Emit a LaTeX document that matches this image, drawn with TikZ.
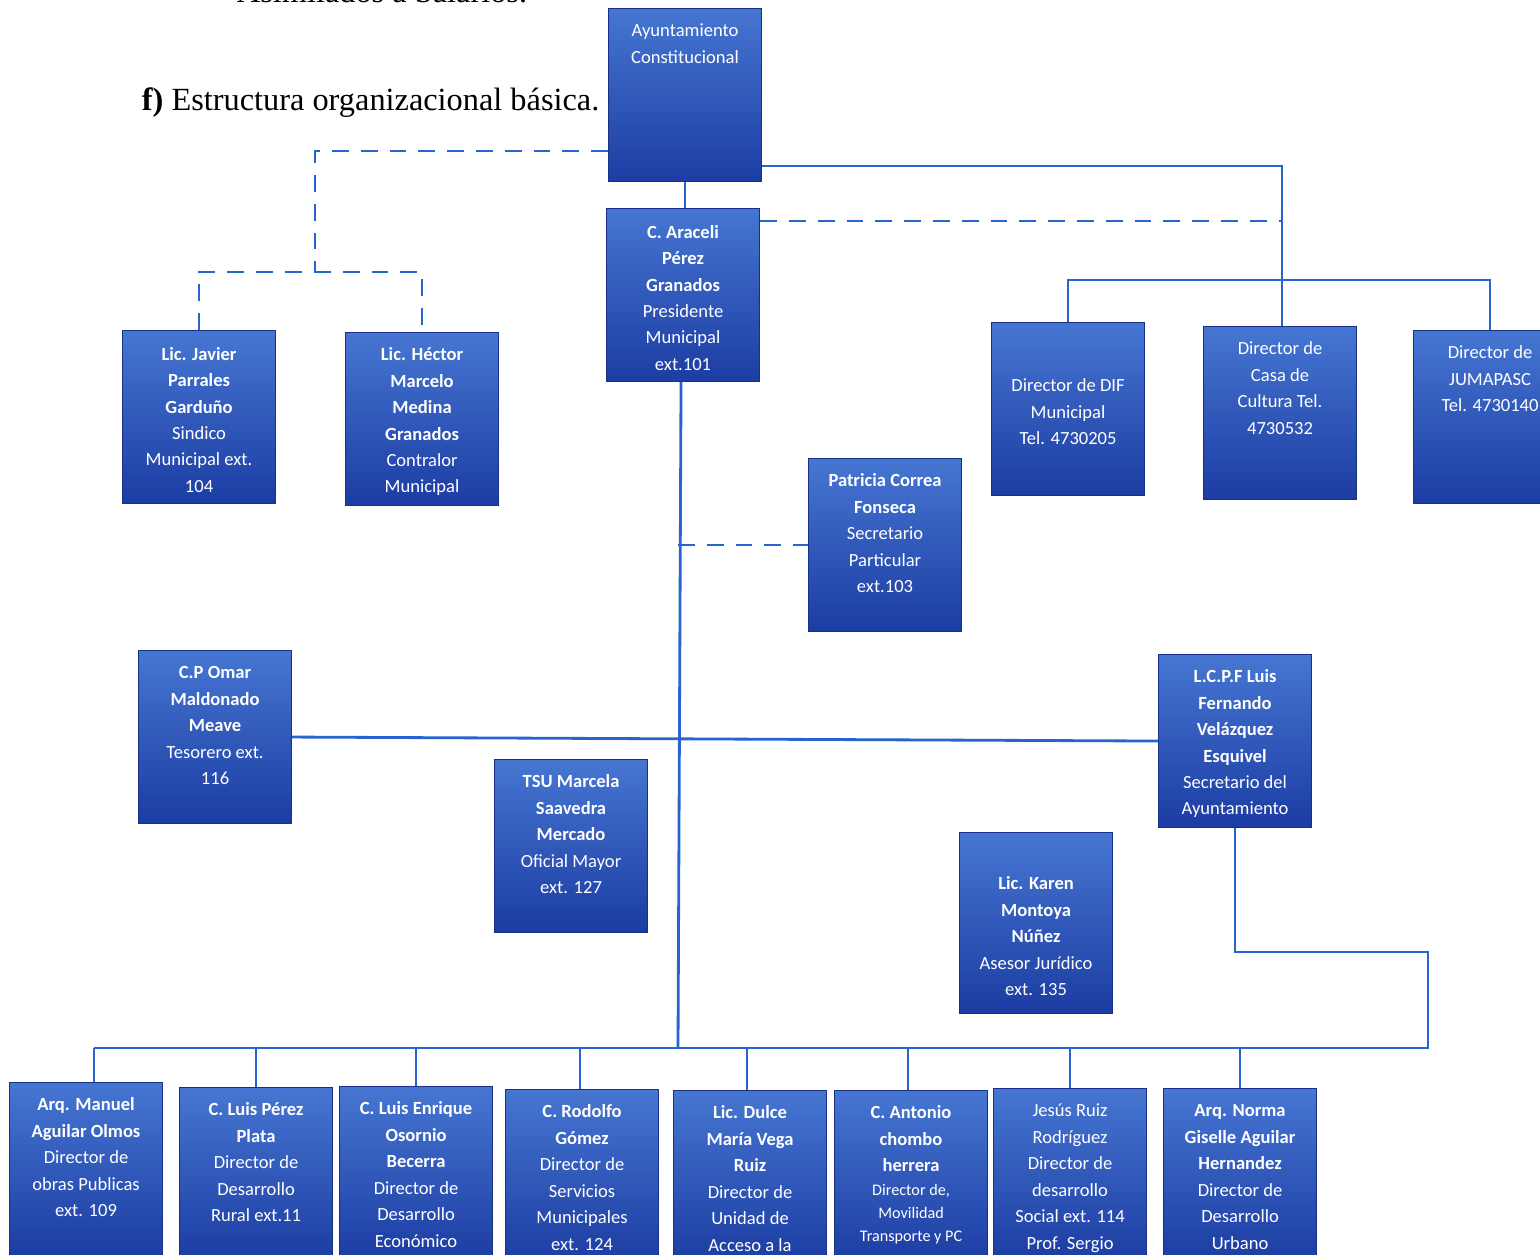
\documentclass[tikz,border=0pt]{standalone}
\usepackage{fontspec}
\setmainfont{Carlito}
\newfontfamily\titlefont{Liberation Serif}
\usetikzlibrary{calc,positioning}

\definecolor{boxtop}{RGB}{70,118,210}
\definecolor{boxmid}{RGB}{62,108,208}
\definecolor{boxbot}{RGB}{28,60,162}
\definecolor{boxedge}{RGB}{24,48,135}
\definecolor{linkblue}{RGB}{40,100,205}

\newcommand{\orgtext}[2][t]{\parbox[c][3.83cm][#1]{3.83cm}{\centering\strut #2}}

\tikzset{
  orgbox/.style={draw=boxedge,line width=0.6pt,top color=boxtop,middle color=boxmid,bottom color=boxbot,
    text=white,inner xsep=0pt,inner ysep=0.25cm,anchor=north west,
    font=\fontsize{13.2pt}{18.8pt}\selectfont},
  link/.style={draw=linkblue,line width=2pt},
  dlink/.style={link,dash pattern=on 0.42cm off 0.3cm}
}

\begin{document}
\begin{tikzpicture}[x=0.025cm,y=-0.025cm]
  \useasboundingbox (0,0) rectangle (1540,1255);
  \clip (0,0) rectangle (1540,1255);

  % heading
  \node[anchor=base west,font=\titlefont\fontsize{23pt}{27pt}\selectfont] (asim) at (232,3) {Asimilados a Salarios.};
  \node[anchor=base west,font=\titlefont\fontsize{23pt}{27pt}\selectfont] (titulo) at (137,111) {\textbf{f)} Estructura organizacional básica.};

  % top level
  \node[orgbox] (ayto) at (608,8) {\orgtext{Ayuntamiento\\Constitucional}};
  \node[orgbox] (pres) at (606,208) {\orgtext[c]{\textbf{C. Araceli}\\\textbf{Pérez}\\\textbf{Granados}\\Presidente\\Municipal\\ext.101}};
  \node[orgbox] (sind) at (122,330) {\orgtext[c]{\textbf{Lic. Javier}\\\textbf{Parrales}\\\textbf{Garduño}\\Sindico\\Municipal ext.\\104}};
  \node[orgbox] (contr) at (345,332) {\orgtext[c]{\textbf{Lic. Héctor}\\\textbf{Marcelo}\\\textbf{Medina}\\\textbf{Granados}\\Contralor\\Municipal}};
  \node[orgbox] (dif) at (991,322) {\orgtext[c]{Director de DIF\\Municipal\\Tel. 4730205}};
  \node[orgbox] (casa) at (1203,326) {\orgtext{Director de\\Casa de\\Cultura Tel.\\4730532}};
  \node[orgbox] (jum) at (1413,330) {\orgtext{Director de\\JUMAPASC\\Tel. 4730140}};

  % middle
  \node[orgbox] (pat) at (808,458) {\orgtext{\textbf{Patricia Correa}\\\textbf{Fonseca}\\Secretario\\Particular\\ext.103}};
  \node[orgbox] (tes) at (138,650) {\orgtext{\textbf{C.P Omar}\\\textbf{Maldonado}\\\textbf{Meave}\\Tesorero ext.\\116}};
  \node[orgbox] (ofm) at (494,759) {\orgtext{\textbf{TSU Marcela}\\\textbf{Saavedra}\\\textbf{Mercado}\\Oficial Mayor\\ext. 127}};
  \node[orgbox] (secay) at (1158,654) {\orgtext[c]{\textbf{L.C.P.F Luis}\\\textbf{Fernando}\\\textbf{Velázquez}\\\textbf{Esquivel}\\Secretario del\\Ayuntamiento}};
  \node[orgbox] (jur) at (959,832) {\orgtext[b]{\textbf{Lic. Karen}\\\textbf{Montoya}\\\textbf{Núñez}\\Asesor Jurídico\\ext. 135\strut}};

  % directors
  \node[orgbox] (obras) at (9,1082) {\orgtext{\textbf{Arq. Manuel}\\\textbf{Aguilar Olmos}\\Director de\\obras Publicas\\ext. 109}};
  \node[orgbox] (rural) at (179,1087) {\orgtext{\textbf{C. Luis Pérez}\\\textbf{Plata}\\Director de\\Desarrollo\\Rural ext.11}};
  \node[orgbox] (econ) at (339,1086) {\orgtext{\textbf{C. Luis Enrique}\\\textbf{Osornio}\\\textbf{Becerra}\\Director de\\Desarrollo\\Económico}};
  \node[orgbox] (serv) at (505,1089) {\orgtext{\textbf{C. Rodolfo}\\\textbf{Gómez}\\Director de\\Servicios\\Municipales\\ext. 124}};
  \node[orgbox] (acceso) at (673,1090) {\orgtext{\textbf{Lic. Dulce}\\\textbf{María Vega}\\\textbf{Ruiz}\\Director de\\Unidad de\\Acceso a la}};
  \node[orgbox] (movil) at (834,1090) {\orgtext{\textbf{C. Antonio}\\\textbf{chombo}\\\textbf{herrera}\par
    {\fontsize{11.5pt}{16.5pt}\selectfont Director de,\\Movilidad\\Transporte y PC\par}}};
  \node[orgbox] (social) at (993,1088) {\orgtext{Jesús Ruiz\\Rodríguez\\Director de\\desarrollo\\Social ext. 114\\Prof. Sergio}};
  \node[orgbox] (urb) at (1163,1088) {\orgtext{\textbf{Arq. Norma}\\\textbf{Giselle Aguilar}\\\textbf{Hernandez}\\Director de\\Desarrollo\\Urbano}};

  % junctions
  \coordinate (cultj) at (1282,280);
  \coordinate (sindj) at (315,272);
  \coordinate (secj) at (1428,952);
  \coordinate (trunkb) at (678,1048);
  \coordinate (aytod) at ($(ayto.south west)+(0,-31)$);
  \coordinate (presd) at ($(pres.north east)+(0,13)$);

  % solid lines
  \draw[link] (ayto.south) -- (ayto.south |- pres.north);
  \draw[link] ($(ayto.south east)+(0,-16)$) -| (cultj);
  \draw[link] (dif.north) -- (dif.north |- cultj) -- (jum.north |- cultj) -- (jum.north);
  \draw[link] (cultj) -- (cultj |- casa.north);
  \draw[link] ($(pres.south)+(-2,0)$) -- (trunkb);
  \draw[link] (tes.east) -- (secay.west);
  \draw[link] ($(ofm.east)+(0,11)$) -- ($(ofm.east)+(0,11)$ -| trunkb);
  \draw[link] (secay.south) |- (secj) -- (secj |- trunkb) -- ($(obras.north |- trunkb)+(8,0)$);
  \foreach \n/\dx in {obras/8,rural/0,econ/0,serv/-2,acceso/-3,movil/-3,social/0,urb/0}
    \draw[link] ($(\n.north |- trunkb)+(\dx,0)$) -- ($(\n.north)+(\dx,0)$);

  % dashed lines
  \draw[dlink] (presd) -- (presd -| cultj);
  \draw[dlink] (aytod) -| (sindj);
  \draw[dlink] (sind.north) -- (sind.north |- sindj) -- (contr.north |- sindj) -- (contr.north);
  \draw[dlink] (trunkb |- pat.west) -- (pat.west);
  \draw[dlink] ($(jur.east)+(0,6)$) -- ($(jur.east)+(0,6)$ -| secay.south);

\end{tikzpicture}
\end{document}
